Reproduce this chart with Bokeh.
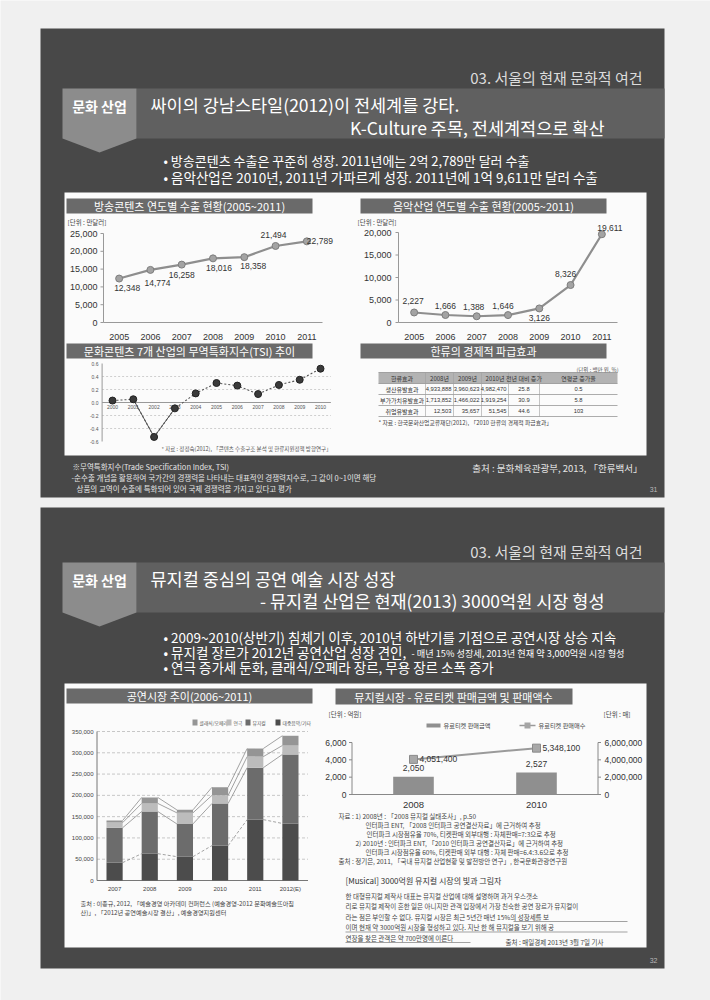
from bokeh.plotting import figure
from bokeh.models import Range1d
from bokeh.core.properties import value
from bokeh.embed import file_html
from bokeh.resources import INLINE

# ======================= DATA =======================
BC_YEARS = [2005, 2006, 2007, 2008, 2009, 2010, 2011]
BC_EXPORT = [12348, 14774, 16258, 18016, 18358, 21494, 22789]
BC_YTICKS = [0, 5000, 10000, 15000, 20000, 25000]

MU_YEARS = [2005, 2006, 2007, 2008, 2009, 2010, 2011]
MU_EXPORT = [2227, 1666, 1388, 1646, 3126, 8326, 19611]
MU_YTICKS = [0, 5000, 10000, 15000, 20000]

TSI_YEARS = [2000, 2001, 2002, 2003, 2004, 2005, 2006, 2007, 2008, 2009, 2010]
TSI_VALUES = [0.03, 0.05, -0.53, -0.09, 0.14, 0.30, 0.26, 0.13, 0.27, 0.35, 0.52]
TSI_YTICKS = [-0.6, -0.4, -0.2, 0.0, 0.2, 0.4, 0.6]

TBL_HEADER = ["한류효과", "2008년", "2009년", "2010년", "전년 대비 증가", "연평균 증가율"]
TBL_EFFECT = ["생산유발효과", "부가가치유발효과", "취업유발효과"]
TBL_2008 = ["4,933,888", "1,713,852", "12,503"]
TBL_2009 = ["3,960,623", "1,466,022", "35,657"]
TBL_2010 = ["4,982,470", "1,919,254", "51,545"]
TBL_YOY = ["25.8", "30.9", "44.6"]
TBL_CAGR = ["0.5", "5.8", "103"]

PERF_YEARS = ["2007", "2008", "2009", "2010", "2011", "2012(E)"]
PERF_SERIES = ["클래식/오페라", "연극", "뮤지컬", "대중음악/기타"]
PERF_S1 = [5000, 14000, 7000, 19000, 19000, 23000]      # top of stack
PERF_S2 = [12000, 19000, 26000, 19000, 26000, 21000]
PERF_S3 = [82000, 99000, 77000, 99000, 122000, 162000]
PERF_S4 = [42000, 63000, 56000, 82000, 143000, 134000]  # bottom of stack
PERF_YTICKS = [0, 50000, 100000, 150000, 200000, 250000, 300000, 350000]

MUS_YEARS = ["2008", "2010"]
MUS_SALES = [2050, 2527]
MUS_TICKETS = [4051400, 5348100]
MUS_LTICKS = [0, 2000, 4000, 6000]
MUS_RTICKS = [0, 2000000, 4000000, 6000000]

# ======================= STYLE =======================
KR = "Noto Sans CJK KR"
NUM = "Liberation Sans"
PAGE = "#f0f0f0"
SLIDE = "#484848"
BAND = "#606060"
BADGE = "#8c8c8c"
CONTENT = "#fbfbfb"
TBAR = "#6a6a6a"
W, H = 710, 1000

p = figure(width=W, height=H, x_range=Range1d(0, W), y_range=Range1d(H, 0),
           x_axis_type=None, y_axis_type=None, toolbar_location=None,
           output_backend="svg", min_border=0,
           background_fill_color=PAGE, border_fill_color=PAGE,
           outline_line_color=None)
p.grid.visible = False


def ranges(name, xd, xp, yd, yp):
    (d0, d1), (px0, px1) = xd, xp
    kx = (d1 - d0) / (px1 - px0)
    p.extra_x_ranges[name] = Range1d(d0 - px0 * kx, d0 + (W - px0) * kx)
    (v0, v1), (pb, pt) = yd, yp
    ky = (v1 - v0) / (pb - pt)
    p.extra_y_ranges[name] = Range1d(v0 - (H - pb) * ky, v0 + pb * ky)


def box(x0, x1, y0, y1, color, line=None, lw=1.0, xr="default", yr="default"):
    p.quad(left=[x0], right=[x1], top=[y0], bottom=[y1], fill_color=color,
           line_color=line, line_width=lw, x_range_name=xr, y_range_name=yr)


def T(x, y, s, size, color="#222222", align="left", base="middle", font=KR,
      style="normal", xr="default", yr="default", xo=0, yo=0):
    if isinstance(s, str):
        s = [s]
    n = len(s)
    xs = x if isinstance(x, list) else [x] * n
    ys = y if isinstance(y, list) else [y] * n
    xos = xo if isinstance(xo, list) else [xo] * n
    yos = yo if isinstance(yo, list) else [yo] * n
    p.text(x=xs, y=ys, text=s, x_offset=xos, y_offset=yos,
           text_font=value(font), text_font_size=f"{size}px",
           text_color=color, text_align=align, text_baseline=base,
           text_font_style=style, x_range_name=xr, y_range_name=yr)


def seg(x0, y0, x1, y1, color="#888888", lw=1.0, dash="solid", xr="default", yr="default"):
    p.segment(x0=x0 if isinstance(x0, list) else [x0],
              y0=y0 if isinstance(y0, list) else [y0],
              x1=x1 if isinstance(x1, list) else [x1],
              y1=y1 if isinstance(y1, list) else [y1],
              line_color=color, line_width=lw, line_dash=dash,
              x_range_name=xr, y_range_name=yr)


def slide_header(top, band0, band1, t1y, t2y, title1, title2):
    T(642, top, "03. 서울의 현재 문화적 여건", 15, "#dcdcdc", "right")
    box(136, 664, band0, band1, BAND)
    p.patch([62, 136, 136, 99, 62], [band0, band0, band1, band1 + 14, band1],
            fill_color=BADGE, line_color=None)
    T(99, t1y + 1, "문화 산업", 14, "white", "center", style="bold")
    T(150, t1y, title1, 17.5, "white")
    T(604, t2y, title2, 17.5, "white", "right")


# ======================= TOP SLIDE =======================
box(40, 664, 28, 497, SLIDE)
slide_header(77, 88, 138, 104, 127,
             "싸이의 강남스타일(2012)이 전세계를 강타.",
             "K-Culture 주목, 전세계적으로 확산")
T(163, 160, "• 방송콘텐츠 수출은 꾸준히 성장. 2011년에는 2억 2,789만 달러 수출", 13, "white")
T(163, 176, "• 음악산업은 2010년, 2011년 가파르게 성장. 2011년에 1억 9,611만 달러 수출", 13.5, "white")
box(64, 646, 192, 455, CONTENT)

# ---- chart A : broadcast exports ----
box(66, 312, 198, 213, TBAR)
T(189, 205.5, "방송콘텐츠 연도별 수출 현황(2005~2011)", 11, "white", "center")
T(67, 221, "[단위 : 만달러]", 6.5, "#444444")
ranges("A", (2004.5, 2011.5), (103, 322), (0, 25000), (322, 233))
seg(2004.5, 0, 2004.5, 25000, "#999999", 1, xr="A", yr="A")
seg(2004.5, 0, 2011.5, 0, "#999999", 1, xr="A", yr="A")
seg([100] * len(BC_YTICKS), BC_YTICKS, [103] * len(BC_YTICKS), BC_YTICKS, "#999999", 1, yr="A")
T(97, BC_YTICKS, [f"{v:,}" for v in BC_YTICKS], 9, "#333333", "right", font=NUM, yr="A")
T(BC_YEARS, 336, [str(v) for v in BC_YEARS], 9, "#333333", "center", font=NUM, xr="A")
p.line(BC_YEARS, BC_EXPORT, line_color="#8e8e8e", line_width=2.2, x_range_name="A", y_range_name="A")
p.scatter(BC_YEARS, BC_EXPORT, marker="circle", size=7, fill_color="#a3a3a3",
          line_color="#7d7d7d", x_range_name="A", y_range_name="A")
T(BC_YEARS, BC_EXPORT, [f"{v:,}" for v in BC_EXPORT], 8.5, "#333333", "center", font=NUM,
  xr="A", yr="A", xo=[8, 7, 0, 6, 9, -2, 13], yo=[9, 13, 10, 10, 9, -11, 0])

# ---- chart B : music exports ----
box(360, 606, 198, 213, TBAR)
T(483, 205.5, "음악산업 연도별 수출 현황(2005~2011)", 11, "white", "center")
T(357, 221, "[단위 : 만달러]", 6.5, "#444444")
ranges("B", (2004.5, 2011.5), (398, 617), (0, 20000), (322, 232))
seg(2004.5, 0, 2004.5, 20000, "#999999", 1, xr="B", yr="B")
seg(2004.5, 0, 2011.5, 0, "#999999", 1, xr="B", yr="B")
seg([395] * len(MU_YTICKS), MU_YTICKS, [398] * len(MU_YTICKS), MU_YTICKS, "#999999", 1, yr="B")
T(391, MU_YTICKS, [f"{v:,}" for v in MU_YTICKS], 9, "#333333", "right", font=NUM, yr="B")
T(MU_YEARS, 336, [str(v) for v in MU_YEARS], 9, "#333333", "center", font=NUM, xr="B")
p.line(MU_YEARS, MU_EXPORT, line_color="#8e8e8e", line_width=2.2, x_range_name="B", y_range_name="B")
p.scatter(MU_YEARS, MU_EXPORT, marker="circle", size=7, fill_color="#a3a3a3",
          line_color="#7d7d7d", x_range_name="B", y_range_name="B")
T(MU_YEARS, MU_EXPORT, [f"{v:,}" for v in MU_EXPORT], 8.5, "#333333", "center", font=NUM,
  xr="B", yr="B", xo=[-1, 0, -3, -5, 0, -5, 8], yo=[-11, -9, -9, -9, 10, -11, -6])

# ---- chart C : TSI ----
box(66, 312, 343, 358, TBAR)
T(189, 350.5, "문화콘텐츠 7개 산업의 무역특화지수(TSI) 추이", 11, "white", "center")
ranges("C", (1999.5, 2010.5), (101.6, 330.4), (-0.6, 0.6), (441, 363))
for g in [-0.4, -0.2, 0.2, 0.4]:
    seg(1999.5, g, 2010.5, g, "#c4c4c4", 0.8, "2 2", xr="C", yr="C")
seg(1999.5, 0, 2010.5, 0, "#999999", 1, xr="C", yr="C")
seg(1999.5, -0.6, 1999.5, 0.6, "#999999", 1, xr="C", yr="C")
T(98, TSI_YTICKS, [f"{v:.1f}" for v in TSI_YTICKS], 5, "#555555", "right", font=NUM, yr="C")
T(TSI_YEARS, 406, [str(v) for v in TSI_YEARS], 5, "#555555", "center", font=NUM, xr="C")
p.line(TSI_YEARS, TSI_VALUES, line_color="#555555", line_width=1.1, line_dash="2 2",
       x_range_name="C", y_range_name="C")
p.line(TSI_YEARS[1:4], TSI_VALUES[1:4], line_color="#555555", line_width=1.0,
       x_range_name="C", y_range_name="C")
p.scatter(TSI_YEARS, TSI_VALUES, marker="circle", size=7, fill_color="#3a3a3a",
          line_color="#222222", x_range_name="C", y_range_name="C")
T(246, 448, "* 자료 : 정정숙(2012), 「콘텐츠 수출구조 분석 및 한류지원정책 방향연구」", 5.5, "#555555", "center")

# ---- table ----
box(360, 606, 343, 358, TBAR)
T(483, 350.5, "한류의 경제적 파급효과", 11, "white", "center")
T(618, 369, "(단위 : 백만 원, %)", 5.5, "#555555", "right")
COLS = [378, 425, 453, 481, 508, 539, 617]
ROWS = [372, 383, 394, 405, 416]
box(COLS[0], COLS[-1], ROWS[0], ROWS[1], "#b3b3b3")
for yy in ROWS:
    seg(COLS[0], yy, COLS[-1], yy, "#8a8a8a", 0.7)
for xx in COLS[1:-1]:
    seg(xx, ROWS[0], xx, ROWS[-1], "#a0a0a0", 0.6)
ccx = [(COLS[i] + COLS[i + 1]) / 2 for i in range(6)]
ccy = [(ROWS[i] + ROWS[i + 1]) / 2 for i in range(4)]
T(ccx, ccy[0], TBL_HEADER, 6, "#333333", "center")
cols_data = [TBL_EFFECT, TBL_2008, TBL_2009, TBL_2010, TBL_YOY, TBL_CAGR]
for ci, colvals in enumerate(cols_data):
    if ci == 0:
        T(ccx[0], ccy[1:], colvals, 6, "#333333", "center")
    elif ci in (1, 2, 3):
        T(COLS[ci + 1] - 2, ccy[1:], colvals, 5.8, "#333333", "right", font=NUM)
    else:
        T(ccx[ci], ccy[1:], colvals, 5.8, "#333333", "center", font=NUM)
T(378, 422, "* 자료 : 한국문화산업교류재단(2012), 「2010 한류의 경제적 파급효과」", 5.8, "#444444")

# ---- footer ----
T(72, 466, "※무역특화지수(Trade Specification Index, TSI)", 7.5, "#e4e4e4")
T(71, 477, "-순수출 개념을 활용하여 국가간의 경쟁력을 나타내는 대표적인 경쟁력지수로, 그 값이 0~1이면 해당", 7.5, "#e4e4e4")
T(76, 488, "상품의 교역이 수출에 특화되어 있어 국제 경쟁력을 가지고 있다고 평가", 7.5, "#e4e4e4")
T(642, 467, "출처 : 문화체육관광부, 2013, 「한류백서」", 9.5, "#e4e4e4", "right")
T(657, 489, "31", 7, "#b8b8b8", "right", font=NUM)

# ======================= BOTTOM SLIDE =======================
box(40, 664, 507, 968, SLIDE)
slide_header(551, 562, 612, 578, 600,
             "뮤지컬 중심의 공연 예술 시장 성장",
             "- 뮤지컬 산업은 현재(2013) 3000억원 시장 형성")
T(163, 636, "• 2009~2010(상반기) 침체기 이후, 2010년 하반기를 기점으로 공연시장 상승 지속", 13.5, "white")
T(163, 651, "• 뮤지컬 장르가 2012년 공연산업 성장 견인,", 13.5, "white")
T(411, 652, "- 매년 15% 성장세, 2013년 현재 약 3,000억원 시장 형성", 9.2, "white")
T(163, 666, "• 연극 증가세 둔화, 클래식/오페라 장르, 무용 장르 소폭 증가", 13.5, "white")
box(64, 646, 683, 947, CONTENT)

# ---- chart D : performance market stacked ----
box(66, 312, 688, 703, TBAR)
T(189, 695.5, "공연시장 추이(2006~2011)", 11, "white", "center")
PERF_COLORS = ["#959595", "#bcbcbc", "#6c6c6c", "#4c4c4c"]
lx = [192, 226, 245, 275]
for i, (lab, col) in enumerate(zip(PERF_SERIES, PERF_COLORS)):
    box(lx[i], lx[i] + 5, 719, 725, col)
    T(lx[i] + 7, 722, lab, 4.8, "#555555")
ranges("D", (-0.5, 5.5), (96.5, 307.5), (0, 350000), (880, 731))
for g in PERF_YTICKS[1:]:
    seg(-0.5, g, 5.5, g, "#b0b0b0", 0.7, "3 2", xr="D", yr="D")
seg(-0.5, 0, 5.5, 0, "#777777", 1, xr="D", yr="D")
seg(-0.5, 0, -0.5, 350000, "#777777", 1, xr="D", yr="D")
T(93, PERF_YTICKS, [f"{v:,}" for v in PERF_YTICKS], 6, "#444444", "right", font=NUM, yr="D")
dx = list(range(len(PERF_YEARS)))
T(dx, 888, PERF_YEARS, 6, "#444444", "center", font=NUM, xr="D")
BW = 0.46
layers = [PERF_S4, PERF_S3, PERF_S2, PERF_S1]
lcols = PERF_COLORS[::-1]
cum = [0] * len(dx)
levels = []
for vals, col in zip(layers, lcols):
    bottoms = cum[:]
    cum = [c + v for c, v in zip(cum, vals)]
    p.vbar(x=dx, width=BW, bottom=bottoms, top=cum, fill_color=col, line_color=None,
           x_range_name="D", y_range_name="D")
    levels.append(cum[:])
for li, lvl in enumerate(levels):
    seg([i + BW / 2 for i in dx[:-1]], lvl[:-1], [i + 1 - BW / 2 for i in dx[:-1]], lvl[1:],
        "#666666", 0.6, "3 2" if li == 0 else "solid", xr="D", yr="D")
T(80, 903, "출처 : 이종규, 2012, 「예술경영 아카데미 컨퍼런스 (예술경영-2012 문화예술뜨아침", 6.2, "#444444")
T(80, 912, "산)」, 「2012년 공연예술시장 결산」, 예술경영지원센터", 6.2, "#444444")

# ---- chart E : musical tickets ----
box(335, 572, 688, 704, TBAR)
T(453, 696, "뮤지컬시장 - 유료티켓 판매금액 및 판매액수", 11, "white", "center")
T(328, 713, "[단위 : 억원]", 6.5, "#444444")
T(603, 713, "[단위 : 매]", 6.5, "#444444")
box(426, 440, 723, 727, "#8f8f8f")
T(443, 725, "유료티켓 판매금액", 6.2, "#444444")
seg(519, 725, 535, 725, "#999999", 1.5)
box(524, 530, 722, 728, "#a5a5a5")
T(538, 725, "유료티켓 판매매수", 6.2, "#444444")
ranges("E", (-0.5, 1.5), (351.5, 597.5), (0, 6000), (794, 742))
ranges("E2", (-0.5, 1.5), (351.5, 597.5), (0, 6000000), (794, 742))
seg(-0.5, 0, 1.5, 0, "#888888", 1, xr="E", yr="E")
seg(-0.5, 0, -0.5, 6000, "#888888", 1, xr="E", yr="E")
seg(1.5, 0, 1.5, 6000, "#888888", 1, xr="E", yr="E")
seg([348.5] * 4, MUS_LTICKS, [351.5] * 4, MUS_LTICKS, "#888888", 1, yr="E")
seg([597.5] * 4, MUS_RTICKS, [600.5] * 4, MUS_RTICKS, "#888888", 1, yr="E2")
T(346, MUS_LTICKS, [f"{v:,}" for v in MUS_LTICKS], 8.5, "#333333", "right", font=NUM, yr="E")
T(604, MUS_RTICKS, [f"{v:,}" for v in MUS_RTICKS], 8.5, "#333333", "left", font=NUM, yr="E2")
ex = [0, 1]
T(ex, 804, MUS_YEARS, 9.5, "#333333", "center", font=NUM, xr="E")
p.vbar(x=ex, width=0.33, top=MUS_SALES, bottom=0, fill_color="#8f8f8f", line_color=None,
       x_range_name="E", y_range_name="E")
T(ex, MUS_SALES, [f"{v:,}" for v in MUS_SALES], 8.5, "#333333", "center", font=NUM,
  xr="E", yr="E", yo=-9)
p.line(ex, MUS_TICKETS, line_color="#9a9a9a", line_width=2, x_range_name="E", y_range_name="E2")
p.scatter(ex, MUS_TICKETS, marker="square", size=8, fill_color="#a8a8a8", line_color="#8a8a8a",
          x_range_name="E", y_range_name="E2")
T(ex, MUS_TICKETS, [f"{v:,}" for v in MUS_TICKETS], 8.5, "#333333", "left", font=NUM,
  xr="E", yr="E2", xo=6)

NOTE = [
    (338, 815, "자료 : 1) 2008년 : 「2008 뮤지컬 실태조사」, p.50"),
    (365, 824, "인터파크 ENT, 「2008 인터파크 공연결산자료」에 근거하여 추정"),
    (366, 833, "인터파크 시장점유율 70%, 티켓판매 외부대행 : 자체판매=7:3으로 추정"),
    (355, 842, "2) 2010년 : 인터파크 ENT, 「2010 인터파크 공연결산자료」에 근거하여 추정"),
    (365, 851, "인터파크 시장점유율 60%, 티켓판매 외부 대행 : 자체 판매=6.4:3.6으로 추정"),
    (338, 860, "출처 : 정기은, 2011, 「국내 뮤지컬 산업현황 및 발전방안 연구」, 한국문화관광연구원"),
]
for nx, ny, ns in NOTE:
    T(nx, ny, ns, 6.5, "#444444")

T(345, 880, "[Musical] 3000억원 뮤지컬 시장의 빛과 그림자", 8, "#333333")
PARA = [
    "한 대형뮤지컬 제작사 대표는 뮤지컬 산업에 대해 설명하며 과거 우스갯소",
    "리로 뮤지컬 제작이 흔한 일은 아니지만 관객 입장에서 가장 친숙한 공연 장르가 뮤지컬이",
    "라는 점은 부인할 수 없다. 뮤지컬 시장은 최근 5년간 매년 15%의 성장세를 보",
    "이며 현재 약 3000억원 시장을 형성하고 있다. 지난 한 해 뮤지컬을 보기 위해 공",
    "연장을 찾은 관객은 약 700만명에 이른다",
]
for i, line in enumerate(PARA):
    T(345, 895 + i * 10.5, line, 6.5, "#444444")
seg(513, 921, 627, 921, "#666666", 0.6)
seg(345, 931.5, 627, 931.5, "#666666", 0.6)
seg(345, 942, 470, 942, "#666666", 0.6)
T(603, 941, "출처 : 매일경제 2013년 3월 7일 기사", 6.5, "#444444", "right")
T(657, 960, "32", 7, "#b8b8b8", "right", font=NUM)

open("out.html", "w").write(file_html(p, INLINE))
